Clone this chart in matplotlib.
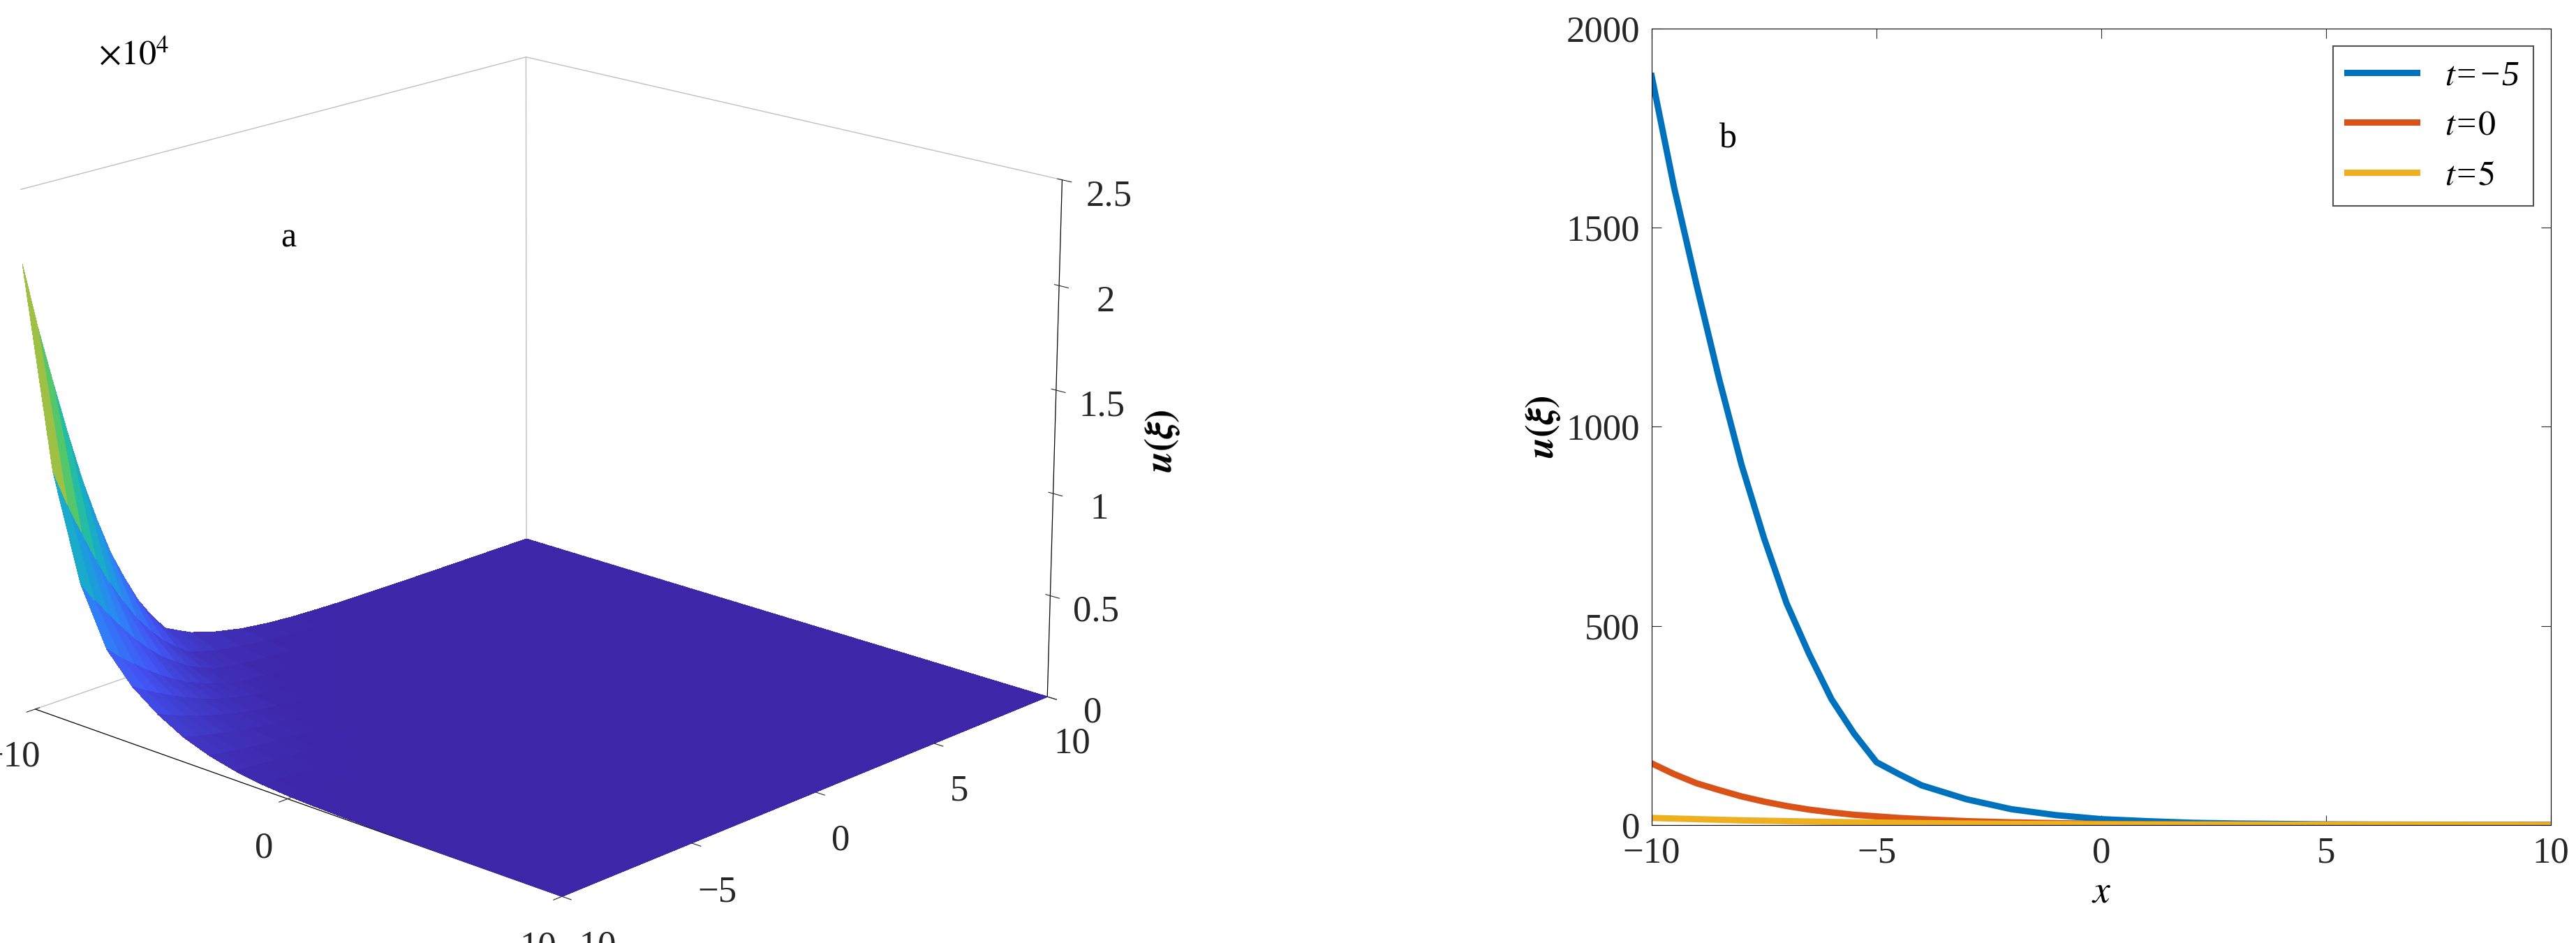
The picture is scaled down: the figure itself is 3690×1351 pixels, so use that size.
import matplotlib
matplotlib.use('agg')
import matplotlib.pyplot as plt  # noqa: E402
import numpy as np  # noqa: E402
from matplotlib.colors import LinearSegmentedColormap  # noqa: E402

plt.rcParams['font.family'] = ['Liberation Serif', 'DejaVu Serif']
plt.rcParams['mathtext.fontset'] = 'stix'

# values, u(x) for each t
x_pts = [-10, -9.5, -9, -8.5, -8, -7.5, -7, -6.5, -6, -5.5, -5, -4.5, -4, -3, -2, -1,
         0, 1, 2, 3, 4, 5, 6, 7, 8, 9, 10]
u_tm5 = [1880, 1600, 1355, 1120, 904, 720, 557, 430, 316, 230, 158, 128, 100, 65, 40, 25,
         15, 10, 6, 4, 3, 2, 1.5, 1.2, 0.9, 0.7, 0.5]
u_t0 = [155, 128, 105, 88, 72, 59, 48, 39, 32, 26, 22, 18, 15, 10, 7, 5,
        3, 2.2, 1.6, 1.2, 0.9, 0.5, 0.4, 0.3, 0.2, 0.1, 0]
u_t5 = [18, 16.5, 15, 13.5, 12, 11, 10, 9, 8, 7.2, 6.5, 5.7, 5, 4, 3, 2.5,
        2, 1.7, 1.5, 1.3, 1.1, 1, 0.8, 0.6, 0.4, 0.2, 0]

# panel a: u along the x=-10 edge for t in [-10, 10]
t_pts = [-10, -9, -8, -7, -6, -5, -4, -3, -2, -1, 0, 1, 2, 3, 4, 5, 6, 7, 8, 9, 10]
u_edge = [21500, 12000, 7000, 4200, 2800, 1880, 1200, 750, 450, 260, 155,
          100, 65, 45, 30, 18, 12, 8, 5, 3, 2]

parula = LinearSegmentedColormap.from_list('parula', [
    '#3e26a8', '#4353f4', '#2f81f7', '#17a5d4', '#1dbbab', '#5cc863',
    '#b1bd3c', '#f6ba3c', '#f9fb15'])

fig = plt.figure(figsize=(36.91, 13.51), dpi=100)

# ---- panel a ----
ax = fig.add_axes([-0.02, -0.06, 0.45, 1.14], projection='3d')
X, T = np.meshgrid(np.array(x_pts, float), np.array(t_pts, float))
prof_x = np.array(u_tm5) / u_tm5[0]
Z = np.outer(np.array(u_edge), prof_x) / 1e4
ax.plot_surface(T, X, Z, cmap=parula, vmin=0, vmax=2.15, linewidth=0,
                antialiased=False, rstride=1, cstride=1)
ax.set_xlim(-10, 10)
ax.set_ylim(-10, 10)
ax.set_zlim(0, 2.5)
ax.set_xticks([-10, 0, 10])
ax.set_yticks([-10, -5, 0, 5, 10])
ax.set_zticks([0, 0.5, 1, 1.5, 2, 2.5])
ax.set_zticklabels(['0', '0.5', '1', '1.5', '2', '2.5'])
ax.set_xticklabels(['\u221210', '0', '10'])
ax.set_yticklabels(['\u221210', '\u22125', '0', '5', '10'])
ax.tick_params(labelsize=38, colors='#262626', pad=18)
ax.view_init(elev=18, azim=-47)
ax.set_box_aspect(None, zoom=1.05)
for a in (ax.xaxis, ax.yaxis, ax.zaxis):
    a.pane.fill = False
    a.pane.set_edgecolor('#808080')
    a._axinfo['grid']['linewidth'] = 0
ax.grid(False)
ax.set_zlabel(r'$\boldsymbol{u(\xi)}$', fontsize=40, labelpad=40)
ax.text2D(0.1, 0.87, r'$\times 10^4$', transform=ax.transAxes, fontsize=36)
ax.text2D(0.27, 0.7, 'a', transform=ax.transAxes, fontsize=36)

# ---- panel b ----
bx = fig.add_axes([0.641, 0.125, 0.349, 0.845])
bx.plot(x_pts, u_tm5, color='#0072BD', lw=6.5, label='$t$=\u22125')
bx.plot(x_pts, u_t0, color='#D95319', lw=6.5, label='$t$=$0$')
bx.plot(x_pts, u_t5, color='#EDB120', lw=6.5, label='$t$=$5$')
bx.set_xlim(-10, 10)
bx.set_ylim(0, 2000)
bx.set_xticks([-10, -5, 0, 5, 10])
bx.set_xticklabels(['\u221210', '\u22125', '0', '5', '10'])
bx.set_yticks([0, 500, 1000, 1500, 2000])
bx.tick_params(labelsize=38, direction='in', top=True, right=True, length=10,
               colors='#262626', pad=12)
bx.set_xlabel(r'$x$', fontsize=40)
bx.set_ylabel(r'$\boldsymbol{u(\xi)}$', fontsize=40)
bx.text(-8.5, 1700, 'b', fontsize=36)
leg = bx.legend(loc='upper right', fancybox=False, handlelength=2,
                edgecolor='#262626', prop={'style': 'italic', 'size': 36})
leg.get_frame().set_linewidth(1.5)

fig.savefig('out.png', dpi=100)
